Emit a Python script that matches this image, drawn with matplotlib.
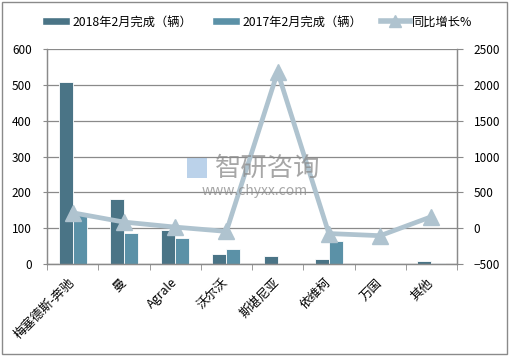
import numpy as np
import matplotlib.pyplot as plt
from matplotlib.lines import Line2D
from matplotlib.patches import Patch, Rectangle

plt.rcParams['font.family'] = ['Noto Sans CJK SC', 'DejaVu Sans']

# 数据
brands = ['梅塞德斯-奔驰', '曼', 'Agrale', '沃尔沃', '斯堪尼亚', '依维柯', '万国', '其他']
sales_2018 = [508, 182, 95, 29, 22, 14, 0, 8]
sales_2017 = [140, 87, 73, 42, 0, 64, 0, 3]
growth = [215, 85, 15, -45, 2180, -75, -105, 160]
label_2018 = '2018年2月完成（辆）'
label_2017 = '2017年2月完成（辆）'
label_growth = '同比增长%'

c2018 = '#4a7486'
c2017 = '#5b91a7'
cline = '#afc3cf'
cgrid = '#8a8a8a'

fig = plt.figure(figsize=(5.09, 3.56), dpi=100)
ax = fig.add_axes([47 / 509, 1 - 264 / 356, 410 / 509, 215 / 356])
ax2 = ax.twinx()

x = np.arange(len(brands))
w = 0.275
ax.bar(x - w / 2, sales_2018, w, color=c2018, edgecolor='white', linewidth=0.6, zorder=2)
ax.bar(x + w / 2, sales_2017, w, color=c2017, edgecolor='white', linewidth=0.6, zorder=2)

ax2.plot(x, growth, color=cline, lw=3.4, marker='^', markersize=12,
         markerfacecolor=cline, markeredgecolor=cline, zorder=3)

ax.set_xlim(-0.5, len(brands) - 0.5)
ax.set_ylim(0, 600)
ax.set_yticks(range(0, 601, 100))
ax2.set_ylim(-500, 2500)
ax2.set_yticks(range(-500, 2501, 500))

ax.yaxis.grid(True, color=cgrid, lw=0.9)
ax.set_axisbelow(True)

# x 轴刻度放在类别之间
ax.set_xticks(x)
ax.set_xticklabels(brands, rotation=45, ha='right', va='center',
                   rotation_mode='anchor', fontsize=9)
ax.set_xticks(np.arange(-0.5, len(brands)), minor=True)
ax.tick_params(axis='x', which='major', length=0, pad=12)
ax.tick_params(axis='x', which='minor', length=4, color=cgrid)
ax.tick_params(axis='y', length=3, color=cgrid, labelsize=8.5, pad=8)
ax2.tick_params(axis='y', length=4, color=cgrid, labelsize=8.5, pad=8)

for a in (ax, ax2):
    a.spines['top'].set_visible(False)
    for s in ('left', 'right', 'bottom'):
        a.spines[s].set_color(cgrid)
        a.spines[s].set_linewidth(0.9)

# 图例
handles = [Patch(facecolor=c2018, edgecolor='white'),
           Patch(facecolor=c2017, edgecolor='white'),
           Line2D([], [], color=cline, lw=4, marker='^', markersize=8)]
fig.legend(handles, [label_2018, label_2017, label_growth], loc='center',
           bbox_to_anchor=(0.505, 1 - 22 / 356), ncol=3, frameon=False, fontsize=8.8,
           handlelength=2.3, handleheight=0.55, handletextpad=0.2, columnspacing=1.6)

# 水印
fig.text(0.525, 1 - 168 / 356, '智研咨询', fontsize=19, color='#8a8a8a', alpha=0.75,
         ha='center', va='center', zorder=5)
fig.text(0.5, 1 - 191 / 356, 'www.chyxx.com', fontsize=10, color='#8a8a8a', alpha=0.75,
         ha='center', va='center', zorder=5)
fig.patches.append(Rectangle((187 / 509, 1 - 178 / 356), 20 / 509, 20 / 356,
                             transform=fig.transFigure, facecolor='#8fb4dc', alpha=0.6,
                             edgecolor='none', zorder=5))

# 外框
fig.patches.append(Rectangle((0.004, 0.006), 0.992, 0.988, transform=fig.transFigure,
                             fill=False, edgecolor='#8a8a8a', lw=1))

fig.savefig('out.png', dpi=100)
